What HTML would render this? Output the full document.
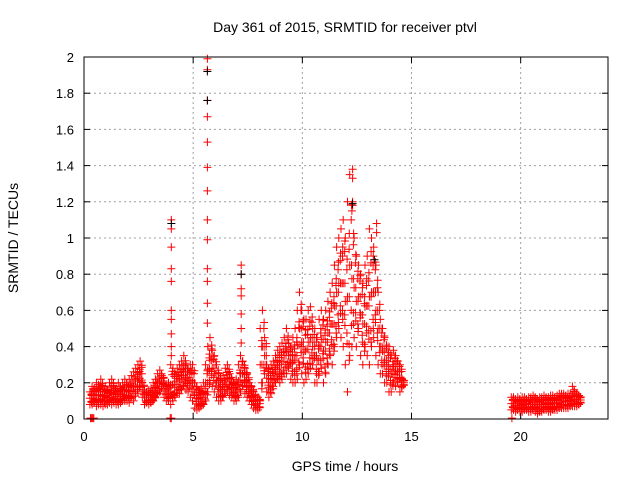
<!DOCTYPE html>
<html><head><meta charset="utf-8"><style>
body{margin:0;background:#fff}
svg{display:block;font-family:"Liberation Sans",sans-serif}
</style></head><body>
<svg id="chart" width="640" height="480" viewBox="0 0 640 480" xmlns="http://www.w3.org/2000/svg"></svg>
<script>
const xTicks=[0,5,10,15,20];
const yTicks=[0,0.2,0.4,0.6,0.8,1,1.2,1.4,1.6,1.8,2];
const yTickLabels=["0","0.2","0.4","0.6","0.8","1","1.2","1.4","1.6","1.8","2"];
const mainStart=0.3;
const mainLo=[.08,.08,.09,.07,.08,.08,.07,
.08,.08,.09,.08,.09,.08,.08,.09,.1,.1,
.1,.09,.12,.1,.14,.15,.18,.12,.08,.09,
.08,.09,.1,.12,.14,.15,.18,.12,.1,.1,
.08,.1,.12,.14,.14,.16,.18,.16,.15,.12,
.1,.06,.05,.06,.07,.08,.1,.15,.2,.18,
.15,.12,.1,.1,.12,.14,.15,.13,.12,.1,
.1,.12,.15,.18,.14,.12,.1,.08,.06,.05,
.05,.1,.2,.25,.15,.12,.14,.18,.2,.22,
.2,.22,.25,.25,.28,.22,.2,.2,.22,.3,
.25,.2,.22,.25,.28,.3,.2,.2,.25,.28,
.2,.25,.3,.35,.3,.4,.45,.5,.45,.4,
.3,.15,.35,.4,.45,.4,.5,.35,.3,.4,
.35,.3,.4,.45,.35,.3,.25,.25,.2,.2,
.15,.15,.2,.18,.2,.15,.18];
const mainHi=[.15,.18,.17,.2,.19,.22,.18,
.18,.16,.2,.22,.18,.17,.2,.18,.2,.22,
.2,.22,.24,.26,.28,.3,.32,.2,.16,.15,
.16,.17,.2,.22,.25,.27,.24,.2,.18,.2,
.3,.28,.26,.28,.3,.32,.35,.3,.28,.3,
.3,.2,.18,.16,.17,.2,.3,.4,.45,.38,
.35,.3,.25,.22,.24,.28,.3,.25,.22,.2,
.22,.3,.35,.32,.28,.25,.2,.18,.15,.12,
.12,.5,.6,.45,.3,.28,.3,.32,.35,.38,
.4,.42,.45,.5,.42,.4,.45,.5,.6,.7,
.6,.55,.55,.6,.62,.5,.5,.45,.55,.6,
.55,.6,.65,.7,.75,.85,.95,1.0,1.05,1.1,
1.0,1.2,1.35,1.15,1.0,.9,.85,.8,.75,.85,
.9,1.05,1.0,.95,.85,.7,.55,.5,.45,.4,
.4,.35,.38,.35,.32,.3,.22];
const tailStart=19.6;
const tailLo=[.05,.05,.04,.05,.04,.04,.05,.05,.04,.04,.05,.04,.03,.04,.04,.05,.05,.04,.04,.05,.05,.05,.06,.06,.06,.06,.06,.07,.07,.07,.07,.08];
const tailHi=[.12,.12,.11,.12,.11,.12,.12,.11,.12,.12,.13,.12,.11,.12,.12,.13,.12,.12,.13,.13,.12,.13,.14,.14,.14,.13,.14,.14,.18,.15,.14,.13];
const spikeTimes=[4.0,5.65,7.2,12.3,13.4];
const spikeValues=[[1.1,1.05,.95,.83,.76,.6,.55,.47,.4,.35],[1.99,1.93,1.76,1.67,1.53,1.39,1.26,1.1,.99,.83,.76,.64,.53],[.85,.8,.72,.68,.58,.5,.42],[1.38,1.33,1.2,1.18],[1.08,1.03]];
const zeroTimes=[0.3,0.35,0.4,0.45,3.95,4.0,19.6];
const blackTimes=[4.0,5.65,5.65,7.2,12.3,13.3];
const blackValues=[1.08,1.92,1.76,.8,1.19,.88];

const L=84,R=608,T=57,B=419,XMAX=24,YMAX=2;
const X=v=>L+v/XMAX*(R-L), Y=v=>B-v/YMAX*(B-T);
const svg=document.getElementById('chart');const NS='http://www.w3.org/2000/svg';
function mk(tag,attrs,parent){const e=document.createElementNS(NS,tag);for(const k in attrs)e.setAttribute(k,attrs[k]);(parent||svg).appendChild(e);return e;}
function txt(x,y,s,anchor,parent,size){const e=mk('text',{x:x,y:y,'text-anchor':anchor,'font-size':size||13,fill:'#000'},parent);e.textContent=s;return e;}

const grid=mk('g',{});


xTicks.forEach(v=>{if(v>0)mk('line',{x1:X(v),x2:X(v),y1:T,y2:B,stroke:'#a0a0a0','stroke-dasharray':'2,3'},grid);});
yTicks.forEach(v=>{if(v>0&&v<YMAX)mk('line',{x1:L,x2:R,y1:Y(v),y2:Y(v),stroke:'#a0a0a0','stroke-dasharray':'2,3'},grid);});

const xa=mk('g',{});


xTicks.forEach(v=>{mk('line',{x1:X(v),x2:X(v),y1:B,y2:B-6,stroke:'#000'},xa);mk('line',{x1:X(v),x2:X(v),y1:T,y2:T+6,stroke:'#000'},xa);txt(X(v),B+22,String(v),'middle',xa);});
const ya=mk('g',{});


yTicks.forEach((v,i)=>{mk('line',{x1:L,x2:L+6,y1:Y(v),y2:Y(v),stroke:'#000'},ya);mk('line',{x1:R,x2:R-6,y1:Y(v),y2:Y(v),stroke:'#000'},ya);txt(L-10,Y(v)+5,yTickLabels[i],'end',ya);});

const pts=mk('g',{});


let d='';
function plus(t,v){const x=X(t),y=Y(v);d+=`M${(x-4).toFixed(1)} ${y.toFixed(1)}h8M${x.toFixed(1)} ${(y-4).toFixed(1)}v8`;}
function band(start,lo,hi){lo.forEach((l,i)=>{const h=hi[i];const t=start+i*0.1;for(let k=0;k<=4;k++){plus(t+(k%2?0.04:-0.03),l+(h-l)*k/4);}for(let k=0;k<3;k++){plus(t+0.05,l+(h-l)*(k+0.5)/3);}});}
band(mainStart,mainLo,mainHi);
band(tailStart,tailLo,tailHi);
spikeTimes.forEach((t,i)=>spikeValues[i].forEach(v=>plus(t,v)));
zeroTimes.forEach(t=>plus(t,0.005));
mk('path',{d:d,stroke:'#ff0000','stroke-width':1,fill:'none'},pts);
let db='';
blackTimes.forEach((t,i)=>{const x=X(t),y=Y(blackValues[i]);db+=`M${x-4} ${y}h8M${x} ${y-4}v8`;});
const bp=mk('path',{d:db,stroke:'#000','stroke-width':1,fill:'none'});



const frame=mk('rect',{x:L,y:T,width:R-L,height:B-T,fill:'none',stroke:'#000'});



const title=txt(345,32,'Day 361 of 2015, SRMTID for receiver ptvl','middle',null,14);


const xt=txt(345,471,'GPS time / hours','middle',null,14);


const yt=txt(0,0,'SRMTID / TECUs','middle',null,14);
yt.setAttribute('transform','translate(18,238) rotate(-90)');


</script>
</body></html>
